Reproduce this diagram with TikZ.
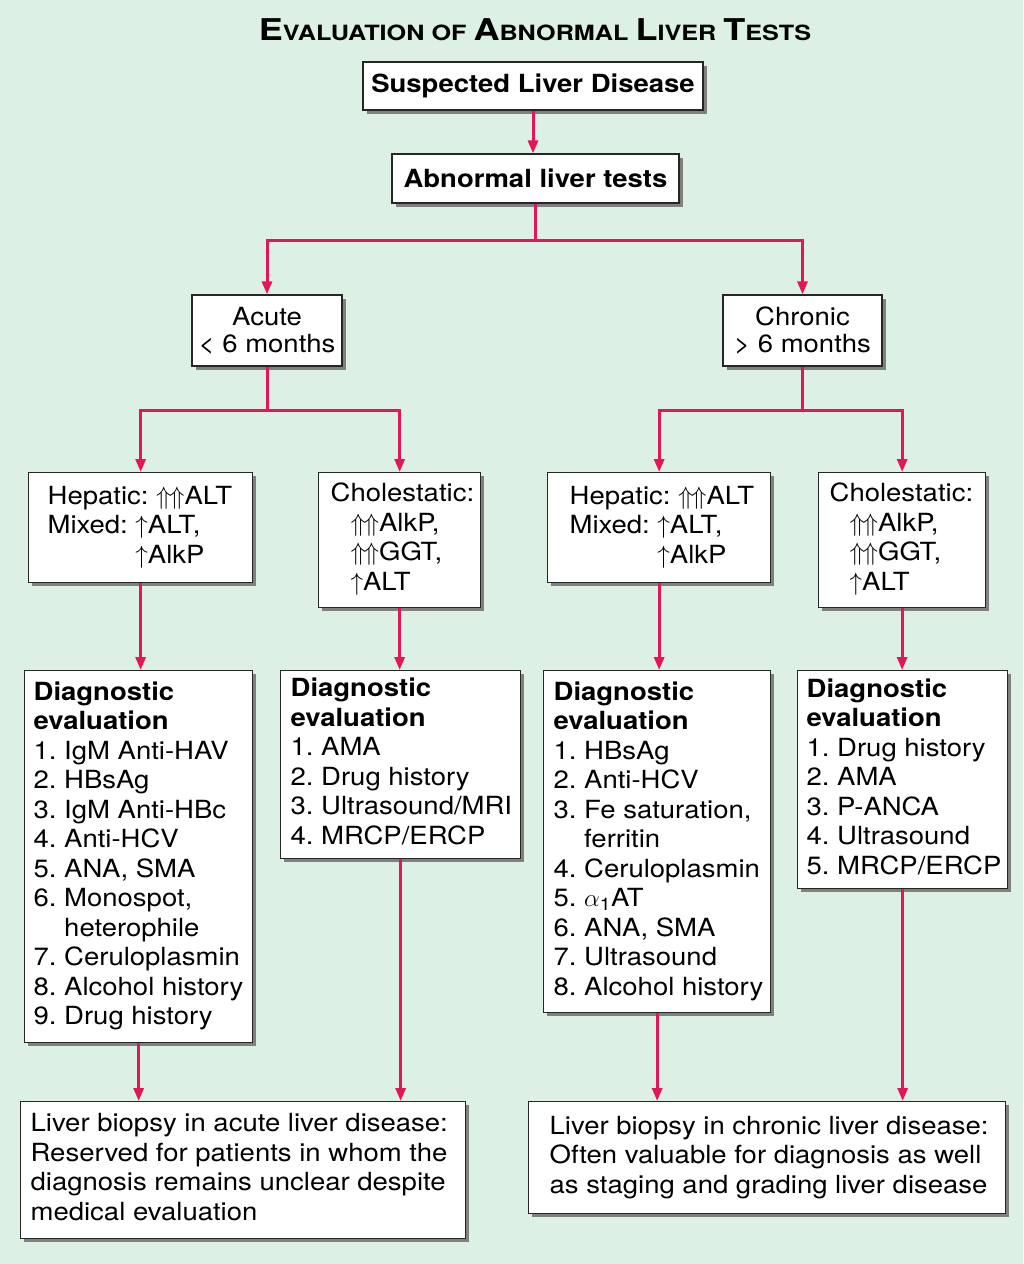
\RequirePackage{fix-cm}
\documentclass[tikz,border=0pt]{standalone}
\usepackage{fontspec}
\setmainfont{TeX Gyre Heros}[FakeStretch=1.1]
\newfontfamily\titlefont{TeX Gyre Heros}[FakeStretch=1.2]
\usetikzlibrary{arrows.meta,shadows}
\definecolor{bgc}{RGB}{221,240,228}
\definecolor{arrc}{RGB}{226,22,88}
\newcommand{\UU}{$\Uparrow\mkern-1.5mu\Uparrow$}
\newcommand{\UA}{$\uparrow$}
\newcommand{\lb}[2]{\makebox[#1pt][l]{\begin{tabular}{@{}l@{}}#2\end{tabular}}}
\newcommand{\TBig}[1]{{\fontsize{30}{32}\selectfont #1}}
\newcommand{\TSml}[1]{{\fontsize{21}{32}\selectfont #1}}
\begin{document}
\begin{tikzpicture}[x=1pt,y=-1pt,
  box/.style={draw=black!85, line width=1.3pt, fill=white,
    drop shadow={shadow xshift=3.5pt, shadow yshift=-3.5pt, fill=black!50, opacity=1},
    font=\fontsize{25}{29.5}\selectfont\frenchspacing, inner sep=0pt},
  cbox/.style n args={2}{box, minimum width=#1pt, minimum height=#2pt, align=center},
  lbox/.style n args={3}{box, anchor=north west, minimum width=#1pt,
    inner xsep=#2pt, minimum height=#3pt},
  line/.style={draw=arrc, line width=3pt},
  conn/.style={line, -{Triangle[length=13pt,width=10pt]}},
  ]
\useasboundingbox (0,0) rectangle (1023,1264);
\fill[bgc] (0,0) rectangle (1023,1264);

\node[font=\titlefont\bfseries] (title) at (535,30)
  {\TBig{E}\TSml{VALUATION OF }\TBig{A}\TSml{BNORMAL }\TBig{L}\TSml{IVER }\TBig{T}\TSml{ESTS}};

\node[cbox={340}{48}, font=\fontsize{25}{29.5}\selectfont\bfseries] (sld) at (533,86) {Suspected Liver Disease};
\node[cbox={287}{49}, font=\fontsize{25}{29.5}\selectfont\bfseries] (alt) at (535.5,178.5) {Abnormal liver tests};

\node[cbox={150}{71}, font=\fontsize{25}{27}\selectfont] (acute) at (267,330.5) {Acute\\< 6 months};
\node[cbox={159}{71}, font=\fontsize{25}{27}\selectfont] (chronic) at (802.5,330.5) {Chronic\\> 6 months};

\node[lbox={224}{19}{110}] (hep1) at (28,472)
  {\lb{186}{Hepatic: \UU ALT\\Mixed: \UA ALT,\\\phantom{Mixed: }\UA AlkP}};
\node[lbox={162}{12}{135}] (cho1) at (318,472)
  {\lb{138}{Cholestatic:\\\hspace*{20pt}\UU AlkP,\\\hspace*{20pt}\UU GGT,\\\hspace*{20pt}\UA ALT}};
\node[lbox={223}{22}{110}] (hep2) at (547,472)
  {\lb{179}{Hepatic: \UU ALT\\Mixed: \UA ALT,\\\phantom{Mixed: }\UA AlkP}};
\node[lbox={167}{11}{135}] (cho2) at (818,472)
  {\lb{145}{Cholestatic:\\\hspace*{20pt}\UU AlkP,\\\hspace*{20pt}\UU GGT,\\\hspace*{20pt}\UA ALT}};

\node[lbox={228}{9}{372}] (d1) at (24,670)
  {\lb{210}{\textbf{Diagnostic}\\\textbf{evaluation}\\
   1. IgM Anti-HAV\\2. HBsAg\\3. IgM Anti-HBc\\4. Anti-HCV\\5. ANA, SMA\\
   6. Monospot,\\\phantom{6. }heterophile\\7. Ceruloplasmin\\8. Alcohol history\\9. Drug history}};
\node[lbox={240}{10}{188}] (d2) at (280,670)
  {\lb{220}{\textbf{Diagnostic}\\\textbf{evaluation}\\
   1. AMA\\2. Drug history\\3. Ultrasound/MRI\\4. MRCP/ERCP}};
\node[lbox={227}{10}{342}] (d3) at (543,670)
  {\lb{207}{\textbf{Diagnostic}\\\textbf{evaluation}\\
   1. HBsAg\\2. Anti-HCV\\3. Fe saturation,\\\phantom{3. }ferritin\\4. Ceruloplasmin\\
   5. $\alpha$\textsubscript{1}AT\\6. ANA, SMA\\7. Ultrasound\\8. Alcohol history}};
\node[lbox={210}{9}{218}] (d4) at (797,670)
  {\lb{192}{\textbf{Diagnostic}\\\textbf{evaluation}\\
   1. Drug history\\2. AMA\\3. P-ANCA\\4. Ultrasound\\5. MRCP/ERCP}};

\node[lbox={445}{10}{137}] (b1) at (20,1101)
  {\lb{425}{Liver biopsy in acute liver disease:\\Reserved for patients in whom the\\diagnosis remains unclear despite\\medical evaluation}};
\node[lbox={477}{21}{112}] (b2) at (528,1101)
  {\lb{435}{Liver biopsy in chronic liver disease:\\Often valuable for diagnosis as well\\as staging and grading liver disease}};

\coordinate (j1) at (535.5,240);
\coordinate (j2) at (267,410);
\coordinate (j3) at (802.5,410);

\draw[conn] (sld.south) -- (sld.south |- alt.north);
\draw[line] (alt.south) -- (j1);
\draw[conn] (j1) -| (acute.north);
\draw[conn] (j1) -| (chronic.north);
\draw[line] (acute.south) -- (j2);
\draw[conn] (j2) -| (hep1.north);
\draw[conn] (j2) -| (cho1.north);
\draw[line] (chronic.south) -- (j3);
\draw[conn] (j3) -| (hep2.north);
\draw[conn] (j3) -| (cho2.north);

\draw[conn] (hep1.south) -- (hep1.south |- d1.north);
\draw[conn] (cho1.south) -- (cho1.south |- d2.north);
\draw[conn] (hep2.south) -- (hep2.south |- d3.north);
\draw[conn] (cho2.south) -- (cho2.south |- d4.north);

\draw[conn] (d1.south) -- (d1.south |- b1.north);
\draw[conn] (d2.south) -- (d2.south |- b1.north);
\draw[conn] (d3.south) -- (d3.south |- b2.north);
\draw[conn] (d4.south) -- (d4.south |- b2.north);
\end{tikzpicture}
\end{document}
